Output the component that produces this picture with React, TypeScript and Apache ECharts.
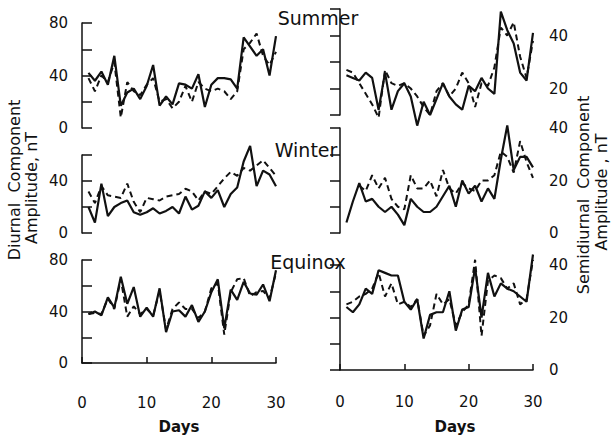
import React, { useEffect, useRef } from 'react';
import * as echarts from 'echarts';

const days = [1, 2, 3, 4, 5, 6, 7, 8, 9, 10, 11, 12, 13, 14, 15, 16, 17, 18, 19, 20, 21, 22, 23, 24, 25, 26, 27, 28, 29, 30];
const xTicks = [0, 10, 20, 30];

// Diurnal component amplitude, nT (left column)
const summerDiurnalSolid = [42, 36, 43, 33, 55, 17, 27, 30, 22, 32, 48, 17, 24, 18, 34, 33, 30, 41, 16, 33, 38, 38, 37, 30, 69, 62, 55, 60, 40, 70];
const summerDiurnalDashed = [38, 28, 40, 35, 50, 8, 35, 28, 25, 33, 38, 20, 22, 15, 20, 32, 20, 35, 30, 28, 30, 28, 22, 28, 60, 65, 72, 55, 48, 58];
const winterDiurnalSolid = [20, 8, 38, 13, 20, 23, 25, 16, 14, 16, 19, 15, 17, 20, 15, 28, 18, 21, 32, 27, 33, 20, 30, 35, 55, 67, 36, 48, 45, 36];
const winterDiurnalDashed = [32, 23, 36, 29, 28, 27, 38, 24, 16, 27, 26, 25, 28, 29, 30, 34, 32, 25, 32, 30, 36, 42, 47, 44, 50, 48, 52, 56, 50, 44];
const equinoxDiurnalSolid = [38, 40, 37, 51, 43, 67, 46, 59, 36, 43, 36, 58, 24, 40, 41, 36, 45, 32, 40, 55, 65, 27, 57, 49, 63, 54, 53, 61, 48, 72];
const equinoxDiurnalDashed = [38, 39, 38, 50, 42, 65, 36, 44, 38, 42, 37, 56, 26, 42, 47, 42, 42, 35, 40, 58, 62, 22, 55, 65, 66, 52, 55, 56, 50, 70];

// Semidiurnal component amplitude, nT (right column)
const summerSemiSolid = [25, 24, 23, 26, 24, 12, 26, 12, 19, 22, 17, 6, 15, 10, 16, 22, 17, 14, 12, 21, 19, 24, 20, 18, 49, 42, 37, 26, 23, 41];
const summerSemiDashed = [27, 26, 22, 18, 14, 9, 27, 22, 21, 22, 20, 17, 13, 10, 19, 22, 17, 20, 26, 22, 13, 22, 21, 28, 43, 40, 45, 32, 24, 38];
const winterSemiSolid = [4, 12, 19, 12, 13, 10, 8, 10, 7, 3, 13, 10, 8, 8, 10, 14, 18, 10, 20, 15, 18, 12, 17, 13, 28, 41, 24, 29, 29, 25];
const winterSemiDashed = [null, null, 18, 16, 22, 17, 21, 13, 10, 9, 22, 17, 17, 20, 14, 24, 17, 15, 19, 17, 16, 20, 20, 22, 31, 29, 23, 35, 27, 21];
const equinoxSemiSolid = [24, 22, 25, 31, 29, 38, 37, 36, 36, 26, 23, 27, 12, 21, 22, 22, 30, 15, 23, 24, 39, 20, 37, 28, 33, 31, 30, 28, 26, 44];
const equinoxSemiDashed = [25, 26, 28, 29, 31, 37, 28, 33, 25, 26, 24, 27, 13, 17, 29, 25, 27, 17, 22, 25, 42, 13, 34, 36, 35, 31, 33, 25, 27, 42];

const panelTitles = ['Summer', 'Winter', 'Equinox'];

const FONT = 'DejaVu Sans';
const INK = '#111';

type Panel = {
  left: number; top: number; width: number; height: number;
  min: number; max: number; interval: number; labelStep: number;
  side: 'left' | 'right'; yOffset: number; showX: boolean; xOffset: number;
  solid: (number | null)[]; dashed: (number | null)[];
};

const panels: Panel[] = [
  { left: 82, top: 23, width: 194, height: 105, min: 0, max: 80, interval: 20, labelStep: 40, side: 'left', yOffset: 10, showX: false, xOffset: 0, solid: summerDiurnalSolid, dashed: summerDiurnalDashed },
  { left: 82, top: 155, width: 194, height: 78, min: 0, max: 60, interval: 20, labelStep: 40, side: 'left', yOffset: 10, showX: false, xOffset: 0, solid: winterDiurnalSolid, dashed: winterDiurnalDashed },
  { left: 82, top: 260, width: 194, height: 103, min: 0, max: 80, interval: 20, labelStep: 40, side: 'left', yOffset: 10, showX: true, xOffset: 23, solid: equinoxDiurnalSolid, dashed: equinoxDiurnalDashed },
  { left: 340, top: 9, width: 193, height: 106, min: 10, max: 50, interval: 10, labelStep: 20, side: 'right', yOffset: 12, showX: false, xOffset: 0, solid: summerSemiSolid, dashed: summerSemiDashed },
  { left: 340, top: 128, width: 193, height: 105, min: 0, max: 40, interval: 10, labelStep: 20, side: 'right', yOffset: 12, showX: false, xOffset: 0, solid: winterSemiSolid, dashed: winterSemiDashed },
  { left: 340, top: 265, width: 193, height: 105, min: 0, max: 40, interval: 10, labelStep: 20, side: 'right', yOffset: 12, showX: true, xOffset: 15, solid: equinoxSemiSolid, dashed: equinoxSemiDashed },
];

function pairs(vals: (number | null)[]) {
  return days.map((d, i) => [d, vals[i] == null ? '-' : vals[i]]);
}

export default function App() {
  const ref = useRef<HTMLDivElement>(null);
  useEffect(() => {
    if (!ref.current) return;
    const chart = echarts.init(ref.current, null, { renderer: 'svg' });
    const grid: any[] = [];
    const xAxis: any[] = [];
    const yAxis: any[] = [];
    const series: any[] = [];
    panels.forEach((p, i) => {
      grid.push({ left: p.left, top: p.top, width: p.width, height: p.height, containLabel: false });
      xAxis.push({
        type: 'value', gridIndex: i, min: 0, max: 30, interval: 10, show: p.showX,
        position: 'bottom', offset: p.xOffset,
        axisLine: { show: true, lineStyle: { color: INK, width: 1.5 } },
        axisTick: { show: true, inside: true, length: 6, lineStyle: { color: INK, width: 1.5 } },
        axisLabel: { show: true, margin: 9, color: INK, fontFamily: FONT, fontSize: 15, customValues: xTicks },
        splitLine: { show: false },
      });
      yAxis.push({
        type: 'value', gridIndex: i, min: p.min, max: p.max, interval: p.interval,
        position: p.side, offset: p.yOffset,
        axisLine: { show: true, lineStyle: { color: INK, width: 1.5 } },
        axisTick: { show: true, inside: true, length: 10, lineStyle: { color: INK, width: 1.5 } },
        axisLabel: {
          margin: 4, color: INK, fontFamily: FONT, fontSize: 15,
          formatter: (v: number) => (v % p.labelStep === 0 ? String(v) : ''),
        },
        splitLine: { show: false },
      });
      series.push({
        type: 'line', xAxisIndex: i, yAxisIndex: i, data: pairs(p.solid), showSymbol: false, symbol: 'none',
        clip: false, connectNulls: false,
        lineStyle: { color: INK, width: 2.2, type: 'solid' }, z: 3,
      });
      series.push({
        type: 'line', xAxisIndex: i, yAxisIndex: i, data: pairs(p.dashed), showSymbol: false, symbol: 'none',
        clip: false, connectNulls: false,
        lineStyle: { color: INK, width: 2, type: [6, 4] }, z: 2,
      });
    });

    const textStyle = (extra: any) => ({ fill: INK, font: `16px "${FONT}"`, textAlign: 'center', textVerticalAlign: 'middle', ...extra });
    const graphic: any[] = [
      { type: 'text', x: 318, y: 18, style: textStyle({ text: panelTitles[0], font: `19px "${FONT}"` }) },
      { type: 'text', x: 306, y: 150, style: textStyle({ text: panelTitles[1], font: `19px "${FONT}"` }) },
      { type: 'text', x: 308, y: 262, style: textStyle({ text: panelTitles[2], font: `19px "${FONT}"` }) },
      { type: 'text', x: 14, y: 180, rotation: Math.PI / 2, style: textStyle({ text: 'Diurnal  Component' }) },
      { type: 'text', x: 31, y: 188, rotation: Math.PI / 2, style: textStyle({ text: 'Amplitude, nT' }) },
      { type: 'text', x: 583, y: 195, rotation: Math.PI / 2, style: textStyle({ text: 'Semidiurnal  Component' }) },
      { type: 'text', x: 601, y: 192, rotation: Math.PI / 2, style: textStyle({ text: 'Amplitude , nT' }) },
      { type: 'text', x: 179, y: 427, style: textStyle({ text: 'Days', font: `bold 15px "${FONT}"` }) },
      { type: 'text', x: 455, y: 427, style: textStyle({ text: 'Days', font: `bold 15px "${FONT}"` }) },
    ];

    chart.setOption({
      animation: false,
      backgroundColor: '#ffffff',
      grid, xAxis, yAxis, series, graphic,
    });
    return () => chart.dispose();
  }, []);
  return <div ref={ref} style={{ position: 'fixed', left: 0, top: 0, width: 611, height: 439, background: '#fff' }} />;
}
